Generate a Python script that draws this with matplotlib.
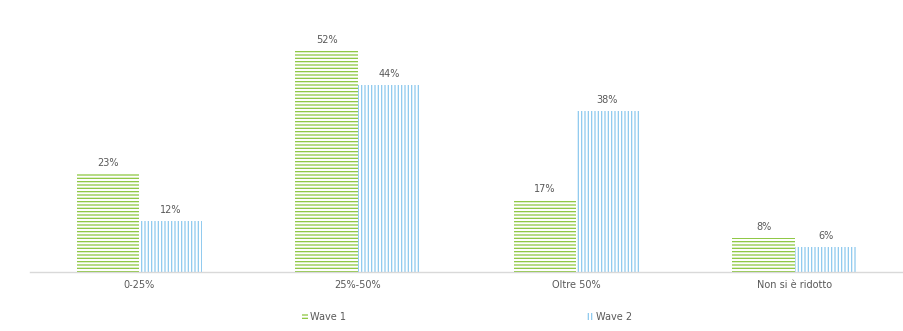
import numpy as np
import matplotlib.pyplot as plt
from matplotlib.patches import Patch

categories = ["0-25%", "25%-50%", "Oltre 50%", "Non si è ridotto"]
wave1 = [23, 52, 17, 8]
wave2 = [12, 44, 38, 6]

green = "#8cc63e"
blue = "#8ec9ef"
plt.rcParams['hatch.linewidth'] = 0.9

fig = plt.figure(figsize=(9.04, 3.31), dpi=100)
ax = fig.add_axes([30/904, 59/331, 874/904, 255/331])

x = np.arange(len(categories))
w = 0.285
b1 = ax.bar(x - w/2, wave1, w, facecolor="white", edgecolor=green, hatch="-----", linewidth=0)
b2 = ax.bar(x + w/2, wave2, w, facecolor="white", edgecolor=blue, hatch="|||||", linewidth=0)

for bars, vals in ((b1, wave1), (b2, wave2)):
    for r, v in zip(bars, vals):
        ax.text(r.get_x() + r.get_width()/2, v + 1.4, f"{v}%", ha="center", va="bottom",
                fontsize=7, color="#595959")

ax.set_xlim(-0.5, 3.5)
ax.set_ylim(0, 60)
ax.set_xticks(x)
ax.set_xticklabels(categories, fontsize=7, color="#595959")
ax.tick_params(length=0, pad=6)
ax.set_yticks([])
for s in ["top", "right", "left"]:
    ax.spines[s].set_visible(False)
ax.spines["bottom"].set_color("#d9d9d9")
ax.spines["bottom"].set_linewidth(1)

h1 = Patch(facecolor="white", edgecolor=green, hatch="-----", linewidth=0, label="Wave 1")
h2 = Patch(facecolor="white", edgecolor=blue, hatch="|||||", linewidth=0, label="Wave 2")
for h, xp in ((h1, 293), (h2, 578)):
    fig.legend(handles=[h], loc="center left", bbox_to_anchor=(xp/904, 1 - 317/331),
               frameon=False, fontsize=7, handlelength=0.6, handleheight=0.6,
               handletextpad=0.3, labelcolor="#595959")

fig.savefig("out.png", dpi=100)
